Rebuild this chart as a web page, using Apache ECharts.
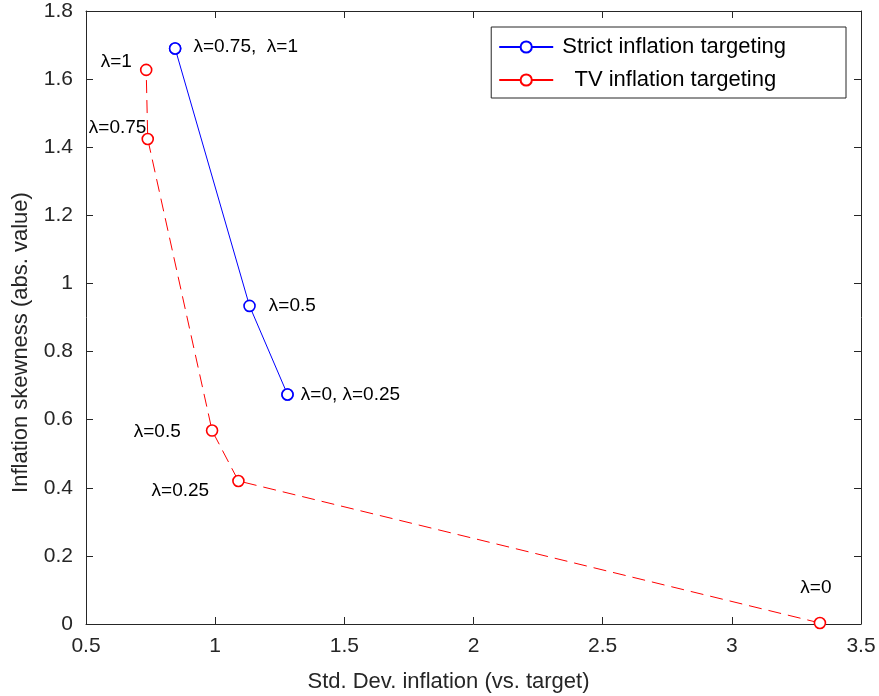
<!DOCTYPE html>
<html>
<head>
<meta charset="utf-8">
<script src="https://cdn.jsdelivr.net/npm/echarts@6/dist/echarts.min.js"></script>
<style>html,body{margin:0;padding:0;background:#fff;}#c{width:879px;height:696px;}</style>
</head>
<body>
<div id="c"></div>
<script>
const strictX = [1.280, 1.280, 1.133, 0.845, 0.845];
const strictY = [0.674, 0.674, 0.934, 1.690, 1.690];
const strictLabels = ['λ=0, λ=0.25', '', 'λ=0.5', 'λ=0.75,  λ=1', ''];
const tvX = [3.341, 1.090, 0.988, 0.739, 0.733];
const tvY = [0.003, 0.420, 0.568, 1.424, 1.627];
const tvLabels = ['λ=0', 'λ=0.25', 'λ=0.5', 'λ=0.75', 'λ=1'];
const seriesNames = ['Strict inflation targeting', '  TV inflation targeting'];

const font = 'Liberation Sans, Arial, Helvetica, sans-serif';
const axisColor = '#262626';

const strictLabelCfg = [
  {position: 'right', offset: [2, 0]},
  null,
  {position: 'right', offset: [8, 0]},
  {position: 'right', offset: [7, -2]},
  null
];
const tvLabelCfg = [
  {position: 'top', offset: [-4, -14]},
  {position: 'left', offset: [-18, 10]},
  {position: 'left', offset: [-20, 1]},
  {position: 'left', offset: [10, -11]},
  {position: 'left', offset: [-3, -8]}
];

function build(xs, ys, labels, cfg) {
  return xs.map((x, i) => {
    const item = {value: [x, ys[i]]};
    if (cfg[i]) {
      item.label = Object.assign({show: true, formatter: labels[i], distance: 5,
        color: '#000', fontSize: 19, fontFamily: font}, cfg[i]);
    } else {
      item.label = {show: false};
    }
    return item;
  });
}

const chart = echarts.init(document.getElementById('c'), null, {renderer: 'canvas'});
const axisCommon = {
  axisLine: {show: true, onZero: false, lineStyle: {color: axisColor, width: 1}},
  axisTick: {show: true, inside: true, length: 7, lineStyle: {color: axisColor}},
  splitLine: {show: false},
  axisLabel: {color: '#262626', fontSize: 21, fontFamily: font}
};
chart.setOption({
  animation: false,
  backgroundColor: '#fff',
  grid: {left: 86, right: 18, top: 11, bottom: 72, containLabel: false, outerBoundsMode: 'none'},
  legend: {
    orient: 'vertical',
    right: 33, top: 27,
    itemWidth: 54, itemHeight: 14, itemGap: 11,
    padding: [9, 60, 7, 7],
    borderColor: '#262626', borderWidth: 1,
    backgroundColor: '#fff',
    lineStyle: {type: 'solid'},
    textStyle: {fontSize: 22, fontFamily: font, color: '#000', padding: [0, 0, 0, 4]},
    data: seriesNames
  },
  xAxis: [
    Object.assign({}, axisCommon, {
      type: 'value', min: 0.5, max: 3.5, interval: 0.5,
      name: 'Std. Dev. inflation (vs. target)', nameLocation: 'middle', nameGap: 47,
      nameTextStyle: {fontSize: 22, fontFamily: font, color: '#262626', padding: [0, 50, 0, 0]},
      axisLabel: Object.assign({}, axisCommon.axisLabel, {margin: 12, formatter: v => String(+v.toFixed(1))})
    }),
    Object.assign({}, axisCommon, {
      type: 'value', min: 0.5, max: 3.5, interval: 0.5, position: 'top',
      axisLabel: {show: false}
    })
  ],
  yAxis: [
    Object.assign({}, axisCommon, {
      type: 'value', min: 0, max: 1.8, interval: 0.2,
      name: 'Inflation skewness (abs. value)', nameLocation: 'middle', nameGap: 54,
      nameTextStyle: {fontSize: 22, fontFamily: font, color: '#262626', padding: [0, 50, 0, 0]},
      axisLabel: Object.assign({}, axisCommon.axisLabel, {margin: 13, formatter: v => String(+v.toFixed(1))})
    }),
    Object.assign({}, axisCommon, {
      type: 'value', min: 0, max: 1.8, interval: 0.2, position: 'right',
      axisLabel: {show: false}
    })
  ],
  series: [
    {
      name: seriesNames[0], type: 'line',
      data: build(strictX, strictY, strictLabels, strictLabelCfg),
      symbol: 'circle', symbolSize: 11, showAllSymbol: true,
      lineStyle: {color: '#0000ff', width: 1},
      itemStyle: {color: '#fff', borderColor: '#0000ff', borderWidth: 1.6},
      z: 3
    },
    {
      name: seriesNames[1], type: 'line',
      data: build(tvX, tvY, tvLabels, tvLabelCfg),
      symbol: 'circle', symbolSize: 11, showAllSymbol: true,
      lineStyle: {color: '#ff0000', width: 1, type: [13, 7]},
      itemStyle: {color: '#fff', borderColor: '#ff0000', borderWidth: 1.6},
      z: 3
    }
  ]
});
</script>
</body>
</html>
